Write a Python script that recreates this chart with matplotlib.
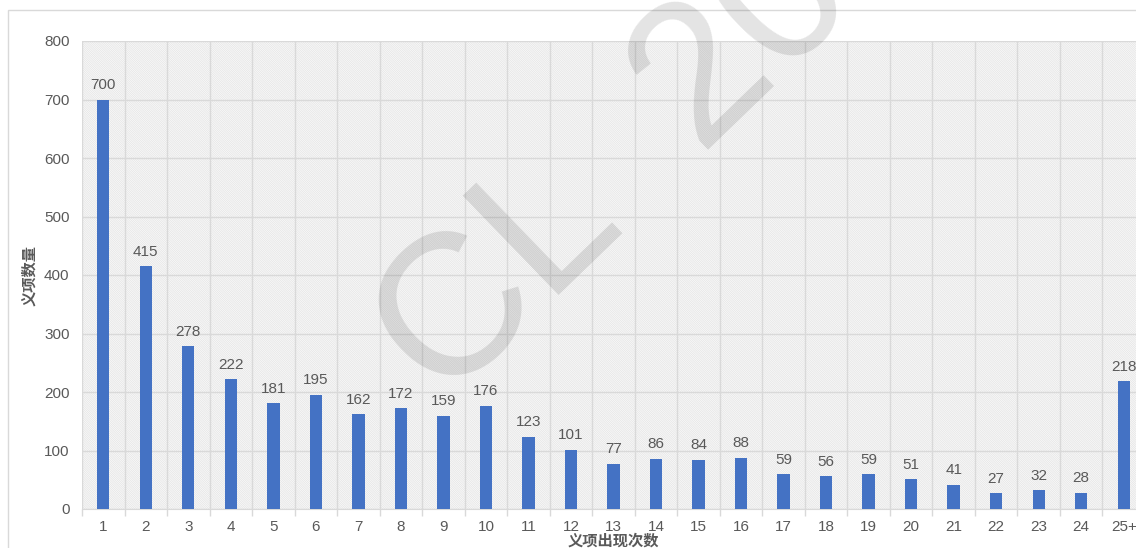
import numpy as np
import matplotlib
matplotlib.use('Agg')
import matplotlib.pyplot as plt
from matplotlib.patches import Rectangle

plt.rcParams['font.family'] = ['Liberation Sans', 'Noto Sans CJK SC', 'DejaVu Sans']
plt.rcParams['hatch.linewidth'] = 0.5
plt.rcParams['hatch.color'] = '#e2e2e2'

# occurrence counts (x) and number of senses (y)
categories = [str(i) for i in range(1, 25)] + ['25+']
counts = [700, 415, 278, 222, 181, 195, 162, 172, 159, 176, 123, 101,
          77, 86, 84, 88, 59, 56, 59, 51, 41, 27, 32, 28, 218]
yticks = [0, 100, 200, 300, 400, 500, 600, 700, 800]

grey = '#595959'
grid_c = '#d9d9d9'

fig = plt.figure(figsize=(11.36, 5.48), dpi=100)
# outer chart frame
fig.patches.append(Rectangle((8 / 1136, -0.1), 1.2, 1 - 10 / 548 + 0.1,
                             transform=fig.transFigure, fill=False,
                             edgecolor=grid_c, lw=1))

ax = fig.add_axes([82 / 1136, 39 / 548, (1145 - 82) / 1136, (509 - 41) / 548])
ax.patch.set_facecolor('white')
ax.patch.set_hatch('\\' * 18)
ax.patch.set_edgecolor('#e2e2e2')

x = np.arange(len(categories))
bars = ax.bar(x, counts, width=0.29, color='#4472C4', zorder=3)
for xi, v in zip(x, counts):
    ax.text(xi, v + 13, str(v), ha='center', va='bottom', fontsize=11,
            color=grey, zorder=4)

ax.set_xlim(-0.5, len(categories) - 0.5)
ax.set_ylim(0, 800)
ax.set_yticks(yticks)
ax.set_xticks(x)
ax.set_xticklabels(categories)
ax.set_xticks(np.arange(len(categories) + 1) - 0.5, minor=True)
ax.tick_params(axis='x', which='major', length=0, pad=8, labelsize=11, labelcolor=grey)
ax.tick_params(axis='x', which='minor', length=5, color=grid_c, width=1)
ax.tick_params(axis='y', length=0, pad=9, labelsize=11, labelcolor=grey)
ax.grid(axis='y', color=grid_c, lw=1, zorder=1)
ax.grid(axis='x', which='minor', color=grid_c, lw=1, zorder=1)
for s in ['top', 'right', 'left']:
    ax.spines[s].set_visible(False)
ax.spines['bottom'].set_color(grid_c)
ax.spines['bottom'].set_zorder(2)

ax.set_xlabel('义项出现次数', fontsize=11, fontweight='bold', color=grey, labelpad=0)
ax.set_ylabel('义项数量', fontsize=11, fontweight='bold', color=grey, labelpad=5)

# watermark, two pieces along a 44 degree baseline
ang = np.deg2rad(44)
x0, y0 = 440, 400          # pixels from top-left
step = 360                 # gap from "CL" start to "2023" start
wm = dict(fontsize=145, rotation=44, rotation_mode='anchor', ha='left',
          va='baseline', color='black', alpha=0.11, zorder=10)
fig.text(x0 / 1136, 1 - y0 / 548, 'CL', **wm)
fig.text((x0 + step * np.cos(ang)) / 1136, 1 - (y0 - step * np.sin(ang)) / 548,
         '2023', **wm)

fig.savefig('out.png', dpi=100)
